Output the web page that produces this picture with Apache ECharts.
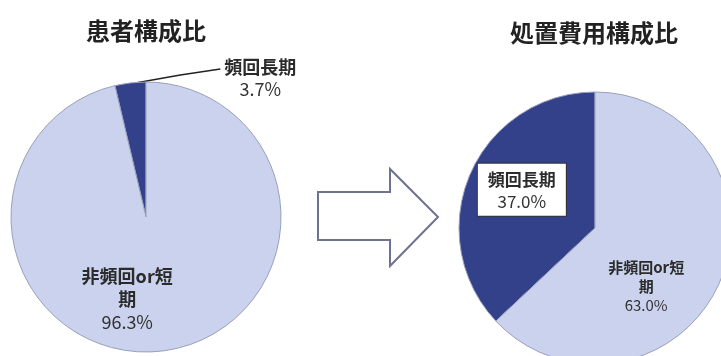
<!DOCTYPE html>
<html>
<head>
<meta charset="utf-8">
<script src="https://cdn.jsdelivr.net/npm/echarts@6/dist/echarts.min.js"></script>
<style>
  html, body { margin: 0; padding: 0; background: #fff; }
  #chart { width: 721px; height: 356px; }
</style>
</head>
<body>
<div id="chart"></div>
<script>
// Category names and their wrapped display form
const categories = ['頻回長期', '非頻回or短期'];
const displayNames = ['頻回長期', '非頻回or短\n期'];

// Share of patients (%) and share of treatment cost (%)
const patientShare = [3.7, 96.3];
const costShare = [37.0, 63.0];

const chartTitles = ['患者構成比', '処置費用構成比'];

const DARK = '#33418a';
const LIGHT = '#cad2ed';
const FONT = '"Noto Sans CJK JP", "Noto Sans", sans-serif';
const TEXT = '#2b2b2b';

// name lines in bold, percentage line in regular weight
function pctLabel(p) {
  const lines = displayNames[p.dataIndex].split('\n').map(function (s) { return '{n|' + s + '}'; });
  return lines.join('\n') + '\n{v|' + Number(p.value).toFixed(1) + '%}';
}

function richFor(size, lh) {
  return {
    n: { fontSize: size, fontWeight: 'bold', color: TEXT, fontFamily: FONT, lineHeight: lh },
    v: { fontSize: size, fontWeight: 'normal', color: '#333', fontFamily: FONT, lineHeight: lh }
  };
}

function buildData(values) {
  return values.map(function (v, i) {
    return { name: categories[i], value: v, itemStyle: { color: i === 0 ? DARK : LIGHT } };
  });
}

const chart = echarts.init(document.getElementById('chart'), null, { renderer: 'canvas' });

const leftData = buildData(patientShare);
leftData[0].label = {
  show: true, position: 'outside', formatter: pctLabel, align: 'center',
  rich: richFor(18, 22)
};
leftData[0].labelLine = { show: true, lineStyle: { color: '#222', width: 1.5 } };
leftData[1].label = {
  show: true, position: 'inside', formatter: pctLabel, offset: [-27, 12],
  rich: richFor(18, 23)
};

const rightData = buildData(costShare);
rightData[0].label = {
  show: true, position: 'inside', formatter: pctLabel, offset: [-8, -10],
  rich: richFor(17, 22),
  backgroundColor: '#fff', borderColor: '#333', borderWidth: 1,
  padding: [5, 10, 3, 10]
};
rightData[1].label = {
  show: true, position: 'inside', formatter: pctLabel, offset: [-14, 30],
  rich: richFor(15, 19)
};

chart.setOption({
  backgroundColor: '#fff',
  animation: false,
  graphic: [
    {
      type: 'text', x: 146, y: 31,
      style: { text: chartTitles[0], fontSize: 24, fontFamily: FONT, fill: '#222',
               align: 'center', verticalAlign: 'middle', fontWeight: 'bold' }
    },
    {
      type: 'text', x: 594, y: 33,
      style: { text: chartTitles[1], fontSize: 24, fontFamily: FONT, fill: '#222',
               align: 'center', verticalAlign: 'middle', fontWeight: 'bold' }
    },
    {
      // hollow block arrow between the two pies
      type: 'polygon',
      shape: { points: [[318, 192], [390, 192], [390, 169], [438, 217], [390, 266], [390, 240], [318, 240]] },
      style: { fill: '#fff', stroke: '#6d7290', lineWidth: 2 }
    }
  ],
  series: [
    {
      type: 'pie',
      center: [146, 217],
      radius: 135,
      startAngle: 90,
      clockwise: false,
      silent: true,
      itemStyle: { borderColor: '#9aa0ba', borderWidth: 1 },
      labelLine: { length: 10, length2: 20 },
      labelLayout: function (params) {
        if (params.dataIndex !== 0 || !params.labelLinePoints) return {};
        const p0 = params.labelLinePoints[0];
        return {
          x: p0[0] + 130,
          y: p0[1] - 5,
          align: 'center',
          verticalAlign: 'middle',
          labelLinePoints: [
            [p0[0] + 5, p0[1]],
            [p0[0] + 50, p0[1] - 8],
            [p0[0] + 90, p0[1] - 14]
          ]
        };
      },
      data: leftData
    },
    {
      type: 'pie',
      center: [595, 228],
      radius: 136,
      startAngle: 90,
      clockwise: false,
      silent: true,
      itemStyle: { borderColor: '#9aa0ba', borderWidth: 1 },
      data: rightData
    }
  ]
});
</script>
</body>
</html>
